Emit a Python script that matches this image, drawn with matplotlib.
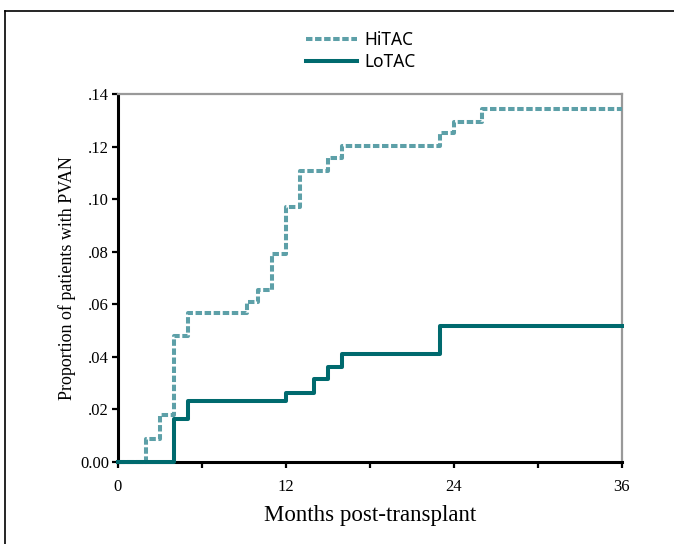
import matplotlib
matplotlib.use("Agg")
import matplotlib.pyplot as plt
from matplotlib.lines import Line2D

# cumulative incidence of PVAN, step changes (months, proportion)
hitac_months = [0, 2, 3, 4, 5, 9.2, 10, 11, 12, 13, 15, 16, 23, 24, 26, 36]
hitac_prop = [0, 0.0087, 0.018, 0.048, 0.0565, 0.0607, 0.0655, 0.079, 0.097,
              0.1108, 0.1155, 0.1202, 0.125, 0.1295, 0.1342, 0.1342]

lotac_months = [0, 4, 5, 12, 14, 15, 16, 23, 36]
lotac_prop = [0, 0.0162, 0.0232, 0.0261, 0.0315, 0.036, 0.041, 0.0517, 0.0517]

x_ticks = [0, 6, 12, 18, 24, 30, 36]
x_labels = ["0", "", "12", "", "24", "", "36"]
y_ticks = [0, 0.02, 0.04, 0.06, 0.08, 0.10, 0.12, 0.14]
y_labels = ["0.00", ".02", ".04", ".06", ".08", ".10", ".12", ".14"]

serif = "Liberation Serif"
sans = "Noto Sans"
hi_col = "#5da0a8"
lo_col = "#006a6e"

fig = plt.figure(figsize=(6.74, 5.44), dpi=100)
ax = fig.add_axes([118/674, 82/544, 504/674, 368/544])

ax.step(hitac_months, hitac_prop, where="post", color=hi_col, lw=2.9,
        linestyle=(0, (1.6, 0.65)), clip_on=False, zorder=5, label="HiTAC")
ax.step(lotac_months, lotac_prop, where="post", color=lo_col, lw=2.9,
        clip_on=False, zorder=6, label="LoTAC")

ax.set_xlim(0, 36)
ax.set_ylim(0, 0.14)
ax.set_xticks(x_ticks)
ax.set_xticklabels(x_labels)
ax.set_yticks(y_ticks)
ax.set_yticklabels(y_labels)
ax.tick_params(direction="out", length=4, width=1.6, color="black", labelsize=12)
ax.tick_params(axis="x", pad=8.5)
ax.tick_params(axis="y", pad=2.5)
for lab in ax.get_xticklabels() + ax.get_yticklabels():
    lab.set_fontfamily(serif)

for side in ["left", "bottom"]:
    ax.spines[side].set_color("black")
    ax.spines[side].set_linewidth(2.2)
for side in ["top", "right"]:
    ax.spines[side].set_color("#999999")
    ax.spines[side].set_linewidth(1.6)

ax.set_xlabel("Months post-transplant", fontfamily=serif, fontsize=16.5, labelpad=7)
ax.set_ylabel("Proportion of patients with PVAN", fontfamily=serif, fontsize=13, labelpad=3)

fig.legend(loc="center", bbox_to_anchor=(361/674, 1 - 51/544), frameon=False,
           prop={"family": sans, "size": 12.5}, handlelength=2.9,
           labelspacing=0.2, handletextpad=0.45)

# open frame around the figure
fig.add_artist(Line2D([5/674, 5/674], [0, 1 - 11/544], color="black", lw=1.2))
fig.add_artist(Line2D([5/674, 1], [1 - 11/544, 1 - 11/544], color="black", lw=1.2))

plt.savefig("out.png", dpi=100)
